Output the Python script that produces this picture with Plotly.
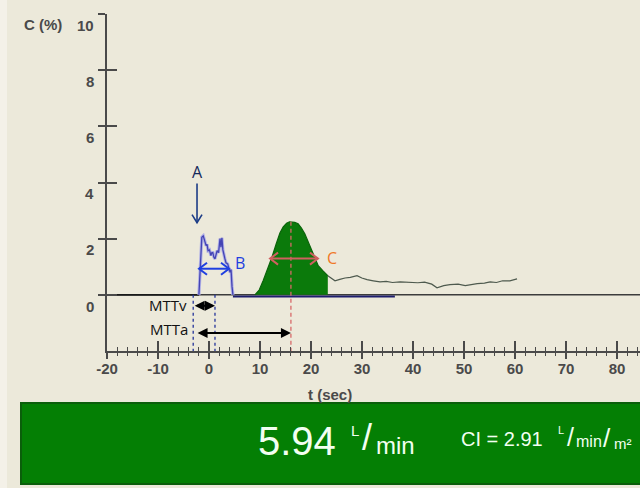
import plotly.graph_objects as go

# ---------------- data ----------------
# baseline before injection
base_t = [-20, -1.98]
base_c = [0, 0]

# venous (blue) indicator curve
venous_t = [-1.98, -1.69, -1.41, -1.13, -0.85, -0.57, -0.38, -0.19, 0.09, 0.37, 0.56, 0.75, 0.94, 1.17, 1.41, 1.59, 1.87, 2.16, 2.34, 2.53, 2.72, 2.91, 3.10, 3.33, 3.66, 4.13, 4.32, 4.51, 4.69]
venous_c = [0.0, 1.4, 2.05, 2.1, 1.9, 1.75, 1.8, 1.57, 1.6, 1.4, 1.5, 1.5, 1.35, 1.28, 1.45, 1.57, 1.5, 2.0, 1.7, 2.03, 1.6, 1.4, 1.3, 1.14, 1.1, 0.8, 0.9, 0.3, 0.0]

# venous baseline after curve
vbase_t = [4.69, 36.44]
vbase_c = [-0.06, -0.06]

# arterial (green) indicator curve
art_t = [9.01, 9.86, 10.61, 11.46, 12.30, 13.15, 13.90, 14.55, 15.21, 15.78, 16.25, 16.81, 17.47, 18.12, 18.78, 19.44, 20.10, 20.75, 21.41, 22.35, 23.29]
art_c = [0.0, 0.18, 0.5, 0.88, 1.32, 1.8, 2.2, 2.42, 2.55, 2.6, 2.6, 2.58, 2.53, 2.38, 2.17, 1.88, 1.57, 1.3, 1.04, 0.85, 0.68]

# recirculation tail (grey)
tail_t = [23.29, 23.95, 24.70, 25.64, 26.67, 27.70, 29.02, 29.96, 30.99, 32.21, 33.53, 34.75, 35.97, 37.47, 38.97, 40.95, 42.26, 43.67, 44.70, 46.02, 47.24, 48.84, 50.24, 51.18, 52.59, 54.00, 55.13, 56.35, 57.57, 58.98, 59.64, 60.39]
tail_c = [0.68, 0.6, 0.5, 0.55, 0.6, 0.62, 0.68, 0.6, 0.54, 0.5, 0.46, 0.48, 0.44, 0.46, 0.45, 0.43, 0.45, 0.38, 0.25, 0.33, 0.36, 0.38, 0.33, 0.36, 0.4, 0.42, 0.46, 0.44, 0.5, 0.5, 0.54, 0.57]

# axis ticks
x_label_vals = [-20, -10, 0, 10, 20, 30, 40, 50, 60, 70, 80]
y_tick_vals = [0, 2, 4, 6, 8, 10]
y_tick_text = ["0", "2", "4", "6", "8", "10"]

# annotation anchors (data units)
A_t, A_text_c, A_tail_c, A_tip_c = -2.35, 4.36, 3.96, 2.57
B_t0, B_t1, B_c = -1.96, 3.92, 0.93
C_t0, C_t1, C_c = 11.97, 21.36, 1.29
mttv_t0, mttv_t1, mttv_c = -3.10, 1.17, -0.39
mtta_t0, mtta_t1, mtta_c = -2.54, 16.06, -1.36
red_t, red_top = 16.06, 2.6

cardiac_output = "5.94"
cardiac_index = "2.91"

# ---------------- geometry ----------------
W, H = 640, 488
ML, MR, MT, MB = 107, 0, 14, 137
XR = [-20, 84.5]
YR = [-2, 10]
PW, PH = W - ML - MR, H - MT - MB
PX_X = PW / (XR[1] - XR[0])
PX_Y = PH / (YR[1] - YR[0])
BG = "#ECE9DA"


def px2paper(x, y):
    return (x - ML) / PW, (H - MB - y) / PH


fig = go.Figure()

# zero line across
fig.add_trace(go.Scatter(x=[XR[0], XR[1]], y=[0, 0], mode="lines",
                         line=dict(color="#3c3c3c", width=1.5), hoverinfo="skip"))
fig.add_trace(go.Scatter(x=base_t, y=base_c, mode="lines",
                         line=dict(color="#1a1a1a", width=1.6), hoverinfo="skip"))
fig.add_trace(go.Scatter(x=vbase_t, y=vbase_c, mode="lines",
                         line=dict(color="#1e1e6e", width=2.2), hoverinfo="skip"))
# green area
fig.add_trace(go.Scatter(x=art_t, y=art_c, mode="lines", fill="tozeroy",
                         fillcolor="#0b7a0b", line=dict(color="#0a640a", width=1.2),
                         hoverinfo="skip"))
# tail
fig.add_trace(go.Scatter(x=tail_t, y=tail_c, mode="lines",
                         line=dict(color="#4e5a4e", width=1.2), hoverinfo="skip"))
# venous curve (halo + line)
fig.add_trace(go.Scatter(x=venous_t, y=venous_c, mode="lines",
                         line=dict(color="#b0b0e6", width=3.2), hoverinfo="skip"))
fig.add_trace(go.Scatter(x=venous_t, y=venous_c, mode="lines",
                         line=dict(color="#4444b4", width=1.3), hoverinfo="skip"))

# dashed guide lines
for tt in [mttv_t0, mttv_t1]:
    fig.add_trace(go.Scatter(x=[tt, tt], y=[0, YR[0]], mode="lines",
                             line=dict(color="#24349a", width=1.3, dash="3px,3px"), hoverinfo="skip"))
fig.add_trace(go.Scatter(x=[red_t, red_t], y=[red_top, YR[0]], mode="lines",
                         line=dict(color="#d86a6a", width=1.3, dash="4px,3px"), hoverinfo="skip"))


def vee_arrow_h(t0, t1, c, color, width=2):
    hl, hw = 8 / PX_X, 6 / PX_Y
    xs = [t0, t1, None, t0 + hl, t0, t0 + hl, None, t1 - hl, t1, t1 - hl]
    ys = [c, c, None, c + hw, c, c - hw, None, c + hw, c, c - hw]
    fig.add_trace(go.Scatter(x=xs, y=ys, mode="lines",
                             line=dict(color=color, width=width), hoverinfo="skip"))


def vee_arrow_down(t, c0, c1, color, width=1.6):
    hl, hw = 8 / PX_Y, 5 / PX_X
    xs = [t, t, None, t - hw, t, t + hw]
    ys = [c0, c1, None, c1 + hl, c1, c1 + hl]
    fig.add_trace(go.Scatter(x=xs, y=ys, mode="lines",
                             line=dict(color=color, width=width), hoverinfo="skip"))


vee_arrow_down(A_t, A_tail_c, A_tip_c, "#1c3c86")
vee_arrow_h(B_t0, B_t1, B_c, "#1f3fe0", 2)
vee_arrow_h(C_t0, C_t1, C_c, "#d06060", 2)

# dummy traces for overlay tick axes
fig.add_trace(go.Scatter(x=[0], y=[0], xaxis="x2", yaxis="y", mode="markers",
                         marker=dict(opacity=0), hoverinfo="skip"))
fig.add_trace(go.Scatter(x=[0], y=[0], xaxis="x", yaxis="y2", mode="markers",
                         marker=dict(opacity=0), hoverinfo="skip"))

ann = []
tick_font = dict(family="Liberation Sans, Arial, sans-serif", size=15, color="#4a4a4a")
label_font = dict(family="Open Sans, Liberation Sans, sans-serif", size=15, color="#111111")

# black double arrows (filled heads)
for t0, t1, c in [(mttv_t0, mttv_t1, mttv_c), (mtta_t0, mtta_t1, mtta_c)]:
    ann.append(dict(x=t1, y=c, ax=t0, ay=c, xref="x", yref="y", axref="x", ayref="y",
                    text="", showarrow=True, arrowhead=2, arrowside="end+start",
                    arrowsize=1, arrowwidth=2, arrowcolor="#000000", standoff=0, startstandoff=0))

ann.append(dict(x=A_t, y=A_text_c, text="A", showarrow=False, xref="x", yref="y",
                font=dict(family="Open Sans, sans-serif", size=16, color="#14285a")))
ann.append(dict(x=B_t1 + 0.8, y=B_c + 0.2, text="B", showarrow=False, xref="x", yref="y",
                xanchor="left", font=dict(family="Open Sans, sans-serif", size=16, color="#1f3fe0")))
ann.append(dict(x=C_t1 + 1.3, y=C_c + 0.03, text="C", showarrow=False, xref="x", yref="y",
                xanchor="left", font=dict(family="Open Sans, sans-serif", size=16, color="#f07828")))
ann.append(dict(x=-3.92, y=-0.36, text="MTTv", showarrow=False, xref="x", yref="y",
                xanchor="right", font=label_font))
ann.append(dict(x=-3.73, y=-1.21, text="MTTa", showarrow=False, xref="x", yref="y",
                xanchor="right", font=label_font))

# y tick labels (shifted below ticks as in reference)
for v, txt in zip(y_tick_vals, y_tick_text):
    ann.append(dict(x=(96 - ML) / PW, y=v - 0.4, xref="paper", yref="y", text="<b>" + txt + "</b>",
                    xanchor="right", yanchor="middle", showarrow=False, font=tick_font))

px, py = px2paper(22, 24)
ann.append(dict(x=px, y=py, xref="paper", yref="paper", text="<b>C (%)</b>", xanchor="left",
                yanchor="middle", showarrow=False, font=tick_font))
px, py = px2paper(330, 394)
ann.append(dict(x=px, y=py, xref="paper", yref="paper", text="<b>t (sec)</b>",
                yanchor="middle", showarrow=False, font=tick_font))

# banner texts
white = "#f2fff2"
bfont = "Liberation Sans, Arial, sans-serif"
for (x, y, txt, size, xa) in [
    (297, 441, cardiac_output, 40, "center"),
    (355, 430, "L", 15, "center"),
    (367, 437, "/", 36, "center"),
    (374, 445, "min", 24, "left"),
    (502, 439, "CI = " + cardiac_index, 20, "center"),
    (561, 430, "L", 11, "center"),
    (570, 437, "/", 25, "center"),
    (574, 442, "min", 16, "left"),
    (607, 438, "/", 26, "center"),
    (612, 443, "m²", 15, "left"),
]:
    px, py = px2paper(x, y)
    ann.append(dict(x=px, y=py, xref="paper", yref="paper", text=txt, xanchor=xa,
                    yanchor="middle", showarrow=False,
                    font=dict(family=bfont, size=size, color=white)))

shapes = []
bx0, by0 = px2paper(21, 403)
bx1, by1 = px2paper(642, 484)
shapes.append(dict(type="rect", xref="paper", yref="paper", x0=bx0, y0=by1, x1=bx1, y1=by0,
                   fillcolor="#047f04", line=dict(color="#0b5e0b", width=2), layer="below"))
lx0, _ = px2paper(0, 0)
lx1, _ = px2paper(7, 0)
_, ly0 = px2paper(0, 488)
_, ly1 = px2paper(0, 0)
shapes.append(dict(type="rect", xref="paper", yref="paper", x0=lx0, y0=ly0, x1=lx1, y1=ly1,
                   fillcolor="#F4F1E8", line=dict(width=0), layer="below"))
# y-axis line extension below the x-axis
_, ye0 = px2paper(0, 358)
_, ye1 = px2paper(0, 351)
shapes.append(dict(type="line", xref="paper", yref="paper", x0=0, x1=0, y0=ye0, y1=ye1,
                   line=dict(color="#4a4a4a", width=1.5)))

axis_col = "#4a4a4a"
fig.update_layout(
    width=W, height=H, autosize=False,
    margin=dict(l=ML, r=MR, t=MT, b=MB, pad=0),
    paper_bgcolor=BG, plot_bgcolor=BG,
    showlegend=False,
    annotations=ann, shapes=shapes,
    xaxis=dict(range=XR, showgrid=False, zeroline=False, showline=True, linecolor=axis_col,
               linewidth=1.5, ticks="outside", ticklen=6, tickwidth=1.5, tickcolor=axis_col,
               tickvals=x_label_vals, ticktext=["<b>%d</b>" % v for v in x_label_vals],
               tickfont=tick_font, ticklabelstandoff=-3,
               minor=dict(ticks="outside", ticklen=3, tickwidth=1, tickcolor=axis_col,
                          dtick=2, tick0=0, showgrid=False),
               fixedrange=True),
    xaxis2=dict(range=XR, overlaying="x", anchor="y", side="bottom", showgrid=False,
                zeroline=False, showline=False, ticks="inside", ticklen=10, tickwidth=1.5,
                tickcolor=axis_col, tickvals=x_label_vals, showticklabels=False,
                minor=dict(ticks="inside", ticklen=4, tickwidth=1, tickcolor=axis_col,
                           dtick=2, tick0=0, showgrid=False)),
    yaxis=dict(range=YR, showgrid=False, zeroline=False, showline=True, linecolor=axis_col,
               linewidth=1.5, ticks="outside", ticklen=7, tickwidth=1.5, tickcolor=axis_col,
               tickvals=y_tick_vals, showticklabels=False, fixedrange=True),
    yaxis2=dict(range=YR, overlaying="y", anchor="x", side="left", showgrid=False,
                zeroline=False, showline=False, ticks="inside", ticklen=10, tickwidth=1.5,
                tickcolor=axis_col, tickvals=y_tick_vals, showticklabels=False),
)

fig.write_html("out.html")
